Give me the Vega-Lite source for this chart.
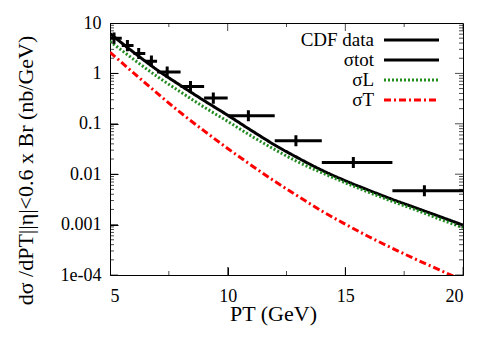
{
  "$schema": "https://vega.github.io/schema/vega-lite/v6.json",
  "width": 353,
  "height": 252,
  "autosize": {"type": "none"},
  "padding": {"left": 110, "top": 23, "right": 35, "bottom": 73},
  "background": "white",
  "config": {
    "font": "Liberation Serif",
    "view": {"stroke": "black", "strokeWidth": 1},
    "axis": {
      "domain": false, "tickColor": "black", "labelColor": "black", "titleColor": "black",
      "labelFont": "Liberation Serif", "titleFont": "Liberation Serif",
      "labelFontSize": 18, "titleFontSize": 22, "titleFontWeight": "normal",
      "grid": false, "ticks": true, "tickWidth": 1
    }
  },
  "datasets": {
    "curves": [
      {"pT": 5, "series": "σtot", "v": 6.17}, {"pT": 6, "series": "σtot", "v": 2.63}, {"pT": 7, "series": "σtot", "v": 1.175},
      {"pT": 8, "series": "σtot", "v": 0.575}, {"pT": 9, "series": "σtot", "v": 0.288}, {"pT": 10, "series": "σtot", "v": 0.148},
      {"pT": 11, "series": "σtot", "v": 0.0741}, {"pT": 12, "series": "σtot", "v": 0.038}, {"pT": 13, "series": "σtot", "v": 0.0209},
      {"pT": 14, "series": "σtot", "v": 0.012}, {"pT": 15, "series": "σtot", "v": 0.00741}, {"pT": 16, "series": "σtot", "v": 0.00479},
      {"pT": 17, "series": "σtot", "v": 0.00316}, {"pT": 18, "series": "σtot", "v": 0.00214}, {"pT": 19, "series": "σtot", "v": 0.00145},
      {"pT": 20, "series": "σtot", "v": 0.000977},
      {"pT": 5, "series": "σL", "v": 4.32}, {"pT": 6, "series": "σL", "v": 1.905}, {"pT": 7, "series": "σL", "v": 0.871},
      {"pT": 8, "series": "σL", "v": 0.427}, {"pT": 9, "series": "σL", "v": 0.214}, {"pT": 10, "series": "σL", "v": 0.112},
      {"pT": 11, "series": "σL", "v": 0.0575}, {"pT": 12, "series": "σL", "v": 0.0309}, {"pT": 13, "series": "σL", "v": 0.0174},
      {"pT": 14, "series": "σL", "v": 0.0107}, {"pT": 15, "series": "σL", "v": 0.00676}, {"pT": 16, "series": "σL", "v": 0.00437},
      {"pT": 17, "series": "σL", "v": 0.00288}, {"pT": 18, "series": "σL", "v": 0.00195}, {"pT": 19, "series": "σL", "v": 0.00129},
      {"pT": 20, "series": "σL", "v": 0.000871},
      {"pT": 5, "series": "σT", "v": 2.63}, {"pT": 6, "series": "σT", "v": 1.023}, {"pT": 7, "series": "σT", "v": 0.407},
      {"pT": 8, "series": "σT", "v": 0.166}, {"pT": 9, "series": "σT", "v": 0.0724}, {"pT": 10, "series": "σT", "v": 0.0324},
      {"pT": 11, "series": "σT", "v": 0.0151}, {"pT": 12, "series": "σT", "v": 0.00724}, {"pT": 13, "series": "σT", "v": 0.00363},
      {"pT": 14, "series": "σT", "v": 0.00186}, {"pT": 15, "series": "σT", "v": 0.00102}, {"pT": 16, "series": "σT", "v": 0.000575},
      {"pT": 17, "series": "σT", "v": 0.000339}, {"pT": 18, "series": "σT", "v": 0.000204}, {"pT": 19, "series": "σT", "v": 0.000126},
      {"pT": 20, "series": "σT", "v": 0.0000776}
    ],
    "cdf": [
      {"series": "CDF data", "x": 5.17, "xlo": 5, "xhi": 5.5, "y": 5.0, "ylo": 3.88, "yhi": 6.45},
      {"series": "CDF data", "x": 5.74, "xlo": 5.5, "xhi": 6, "y": 3.56, "ylo": 2.76, "yhi": 4.59},
      {"series": "CDF data", "x": 6.22, "xlo": 6, "xhi": 6.5, "y": 2.48, "ylo": 1.92, "yhi": 3.2},
      {"series": "CDF data", "x": 6.76, "xlo": 6.5, "xhi": 7, "y": 1.75, "ylo": 1.36, "yhi": 2.26},
      {"series": "CDF data", "x": 7.43, "xlo": 7, "xhi": 8, "y": 1.06, "ylo": 0.822, "yhi": 1.37},
      {"series": "CDF data", "x": 8.42, "xlo": 8, "xhi": 9, "y": 0.55, "ylo": 0.426, "yhi": 0.71},
      {"series": "CDF data", "x": 9.39, "xlo": 9, "xhi": 10, "y": 0.324, "ylo": 0.251, "yhi": 0.418},
      {"series": "CDF data", "x": 10.88, "xlo": 10, "xhi": 12, "y": 0.144, "ylo": 0.112, "yhi": 0.186},
      {"series": "CDF data", "x": 12.9, "xlo": 12, "xhi": 14, "y": 0.046, "ylo": 0.0357, "yhi": 0.0593},
      {"series": "CDF data", "x": 15.34, "xlo": 14, "xhi": 17, "y": 0.017, "ylo": 0.0132, "yhi": 0.0219},
      {"series": "CDF data", "x": 18.36, "xlo": 17, "xhi": 20, "y": 0.0047, "ylo": 0.00364, "yhi": 0.00606}
    ],
    "yMajor": [{"v": 0.0001}, {"v": 0.001}, {"v": 0.01}, {"v": 0.1}, {"v": 1}, {"v": 10}],
    "yMinor": [
      {"v": 0.0002}, {"v": 0.0003}, {"v": 0.0004}, {"v": 0.0005}, {"v": 0.0006}, {"v": 0.0007}, {"v": 0.0008}, {"v": 0.0009},
      {"v": 0.002}, {"v": 0.003}, {"v": 0.004}, {"v": 0.005}, {"v": 0.006}, {"v": 0.007}, {"v": 0.008}, {"v": 0.009},
      {"v": 0.02}, {"v": 0.03}, {"v": 0.04}, {"v": 0.05}, {"v": 0.06}, {"v": 0.07}, {"v": 0.08}, {"v": 0.09},
      {"v": 0.2}, {"v": 0.3}, {"v": 0.4}, {"v": 0.5}, {"v": 0.6}, {"v": 0.7}, {"v": 0.8}, {"v": 0.9},
      {"v": 2}, {"v": 3}, {"v": 4}, {"v": 5}, {"v": 6}, {"v": 7}, {"v": 8}, {"v": 9}
    ],
    "xMajor": [{"pT": 5}, {"pT": 10}, {"pT": 15}, {"pT": 20}],
    "xMinor": [{"pT": 7.5}, {"pT": 12.5}, {"pT": 17.5}]
  },
  "layer": [
    {
      "data": {"name": "curves"},
      "mark": {"type": "line", "clip": true, "strokeWidth": 3, "interpolate": "monotone"},
      "encoding": {
        "x": {
          "field": "pT", "type": "quantitative",
          "scale": {"domain": [5, 20], "nice": false, "zero": false},
          "axis": {
            "orient": "bottom", "title": "PT (GeV)", "values": [5, 10, 15, 20], "format": "d",
            "offset": -8, "tickSize": 8, "labelPadding": 12,
            "titleX": 163, "titleY": 53, "titleBaseline": "alphabetic"
          }
        },
        "y": {
          "field": "v", "type": "quantitative",
          "scale": {"type": "log", "domain": [0.0001, 10], "nice": false},
          "axis": {
            "orient": "left", "title": "dσ /dPT||η|<0.6 x Br  (nb/GeV)",
            "values": [0.0001, 0.001, 0.01, 0.1, 1, 10],
            "labelExpr": "datum.value == 10 ? '10' : datum.value == 1 ? '1' : datum.value == 0.1 ? '0.1' : datum.value == 0.01 ? '0.01' : datum.value == 0.001 ? '0.001' : '1e-04'",
            "offset": -8, "tickSize": 8, "labelPadding": 9, "titleX": -81, "titleY": 147
          }
        },
        "color": {
          "field": "series", "type": "nominal",
          "scale": {"domain": ["CDF data", "σtot", "σL", "σT"], "range": ["black", "black", "#228b22", "#ff0000"]},
          "legend": {
            "orient": "none", "legendX": 292, "legendY": 7.5, "title": null, "padding": 0,
            "symbolType": "M-5,0H5", "symbolSize": 121, "symbolStrokeWidth": 3, "symbolFillColor": "transparent",
            "labelAlign": "right", "labelOffset": -47, "labelFont": "Liberation Serif", "labelFontSize": 19,
            "labelColor": "black", "labelLimit": 0, "rowPadding": 0
          }
        },
        "strokeDash": {
          "field": "series", "type": "nominal",
          "scale": {"domain": ["CDF data", "σtot", "σL", "σT"], "range": [[1, 0], [1, 0], [2, 2], [7, 3, 2, 3]]},
          "legend": {
            "orient": "none", "legendX": 292, "legendY": 7.5, "title": null, "padding": 0,
            "symbolType": "M-5,0H5", "symbolSize": 121, "symbolStrokeWidth": 3, "symbolFillColor": "transparent",
            "labelAlign": "right", "labelOffset": -47, "labelFont": "Liberation Serif", "labelFontSize": 19,
            "labelColor": "black", "labelLimit": 0, "rowPadding": 0
          }
        }
      }
    },
    {
      "data": {"name": "cdf"},
      "mark": {"type": "rule", "strokeWidth": 3},
      "encoding": {
        "x": {"field": "xlo", "type": "quantitative"},
        "x2": {"field": "xhi"},
        "y": {"field": "y", "type": "quantitative"},
        "color": {"field": "series", "type": "nominal"},
        "strokeDash": {"field": "series", "type": "nominal"}
      }
    },
    {
      "data": {"name": "cdf"},
      "mark": {"type": "rule", "strokeWidth": 3},
      "encoding": {
        "x": {"field": "x", "type": "quantitative"},
        "y": {"field": "ylo", "type": "quantitative"},
        "y2": {"field": "yhi"},
        "color": {"field": "series", "type": "nominal"},
        "strokeDash": {"field": "series", "type": "nominal"}
      }
    },
    {
      "data": {"name": "yMajor"},
      "mark": {"type": "tick", "orient": "horizontal", "size": 16, "thickness": 1, "color": "black", "clip": true},
      "encoding": {"x": {"datum": 5, "type": "quantitative"}, "y": {"field": "v", "type": "quantitative"}}
    },
    {
      "data": {"name": "yMajor"},
      "mark": {"type": "tick", "orient": "horizontal", "size": 16, "thickness": 1, "color": "black", "clip": true},
      "encoding": {"x": {"datum": 20, "type": "quantitative"}, "y": {"field": "v", "type": "quantitative"}}
    },
    {
      "data": {"name": "yMinor"},
      "mark": {"type": "tick", "orient": "horizontal", "size": 8, "thickness": 1, "color": "black", "clip": true},
      "encoding": {"x": {"datum": 5, "type": "quantitative"}, "y": {"field": "v", "type": "quantitative"}}
    },
    {
      "data": {"name": "yMinor"},
      "mark": {"type": "tick", "orient": "horizontal", "size": 8, "thickness": 1, "color": "black", "clip": true},
      "encoding": {"x": {"datum": 20, "type": "quantitative"}, "y": {"field": "v", "type": "quantitative"}}
    },
    {
      "data": {"name": "xMajor"},
      "mark": {"type": "tick", "orient": "vertical", "size": 16, "thickness": 1, "color": "black", "clip": true},
      "encoding": {"x": {"field": "pT", "type": "quantitative"}, "y": {"datum": 0.0001, "type": "quantitative"}}
    },
    {
      "data": {"name": "xMajor"},
      "mark": {"type": "tick", "orient": "vertical", "size": 16, "thickness": 1, "color": "black", "clip": true},
      "encoding": {"x": {"field": "pT", "type": "quantitative"}, "y": {"datum": 10, "type": "quantitative"}}
    },
    {
      "data": {"name": "xMinor"},
      "mark": {"type": "tick", "orient": "vertical", "size": 8, "thickness": 1, "color": "black", "clip": true},
      "encoding": {"x": {"field": "pT", "type": "quantitative"}, "y": {"datum": 0.0001, "type": "quantitative"}}
    },
    {
      "data": {"name": "xMinor"},
      "mark": {"type": "tick", "orient": "vertical", "size": 8, "thickness": 1, "color": "black", "clip": true},
      "encoding": {"x": {"field": "pT", "type": "quantitative"}, "y": {"datum": 10, "type": "quantitative"}}
    }
  ]
}
